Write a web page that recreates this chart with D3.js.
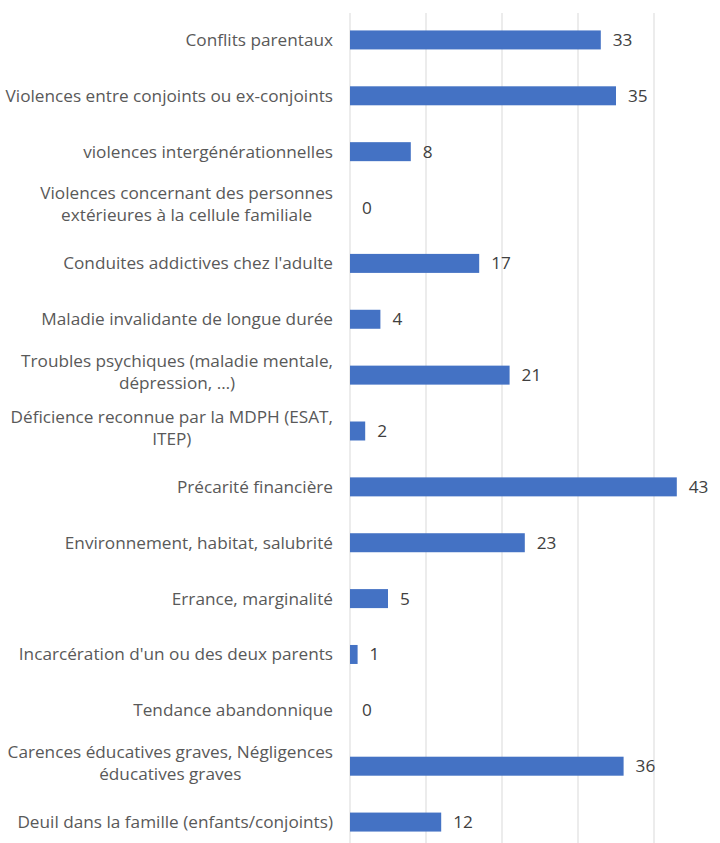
<!DOCTYPE html>
<html><head><meta charset="utf-8">
<script src="https://cdn.jsdelivr.net/npm/d3@7"></script>
<style>body{margin:0;background:#fff}svg{display:block}</style>
</head><body>
<script>
const categories = [
  "Conflits parentaux",
  "Violences entre conjoints ou ex-conjoints",
  "violences intergénérationnelles",
  "Violences concernant des personnes\nextérieures à la cellule familiale",
  "Conduites addictives chez l'adulte",
  "Maladie invalidante de longue durée",
  "Troubles psychiques (maladie mentale,\ndépression, …)",
  "Déficience reconnue par la MDPH (ESAT,\nITEP)",
  "Précarité financière",
  "Environnement, habitat, salubrité",
  "Errance, marginalité",
  "Incarcération d'un ou des deux parents",
  "Tendance abandonnique",
  "Carences éducatives graves, Négligences\néducatives graves",
  "Deuil dans la famille (enfants/conjoints)"
];
const values = [33,35,8,0,17,4,21,2,43,23,5,1,0,36,12];
const ticks = [0,10,20,30,40];

const W = 720, H = 843;
const svg = d3.select("body").append("svg").attr("width", W).attr("height", H);
const font = "'Open Sans', sans-serif";
const x = d3.scaleLinear().domain([0, 10]).range([350, 426]);
const y = d3.scaleBand().domain(categories).range([12, 850]).paddingInner(0.66).paddingOuter(0.33);

svg.append("g").selectAll("line").data(ticks).join("line")
  .attr("x1", d => x(d)).attr("x2", d => x(d))
  .attr("y1", 13).attr("y2", H)
  .attr("stroke", "#d9d9d9").attr("stroke-width", 1);

svg.append("g").selectAll("rect").data(values).join("rect")
  .attr("x", x(0)).attr("y", (d, i) => y(categories[i]))
  .attr("width", d => x(d) - x(0)).attr("height", y.bandwidth())
  .attr("fill", "#4472c4");

const fs = 17.2;
svg.append("g").selectAll("text").data(values).join("text")
  .attr("x", d => x(d) + 12).attr("y", (d, i) => y(categories[i]) + y.bandwidth() / 2)
  .attr("dy", "0.35em").attr("font-family", font).attr("font-size", fs)
  .attr("fill", "#404040").text(d => d);

const lab = svg.append("g").selectAll("text").data(categories).join("text")
  .attr("font-family", font).attr("font-size", fs)
  .attr("fill", "#595959");
lab.each(function(c) {
  const lines = c.split("\n");
  const cy = y(c) + y.bandwidth() / 2;
  const lh = 22;
  const t = d3.select(this);
  if (lines.length === 1) {
    t.attr("text-anchor", "end").attr("x", 333).attr("y", cy).attr("dy", "0.35em").text(c);
    return;
  }
  t.attr("text-anchor", "middle");
  const spans = lines.map((l, k) => t.append("tspan")
      .attr("y", cy + (k - (lines.length - 1) / 2) * lh - 3.5)
      .attr("dy", "0.35em").text(l));
  const maxW = d3.max(spans, s => s.node().getComputedTextLength());
  spans.forEach(s => s.attr("x", 333 - maxW / 2));
});
</script>
</body></html>
